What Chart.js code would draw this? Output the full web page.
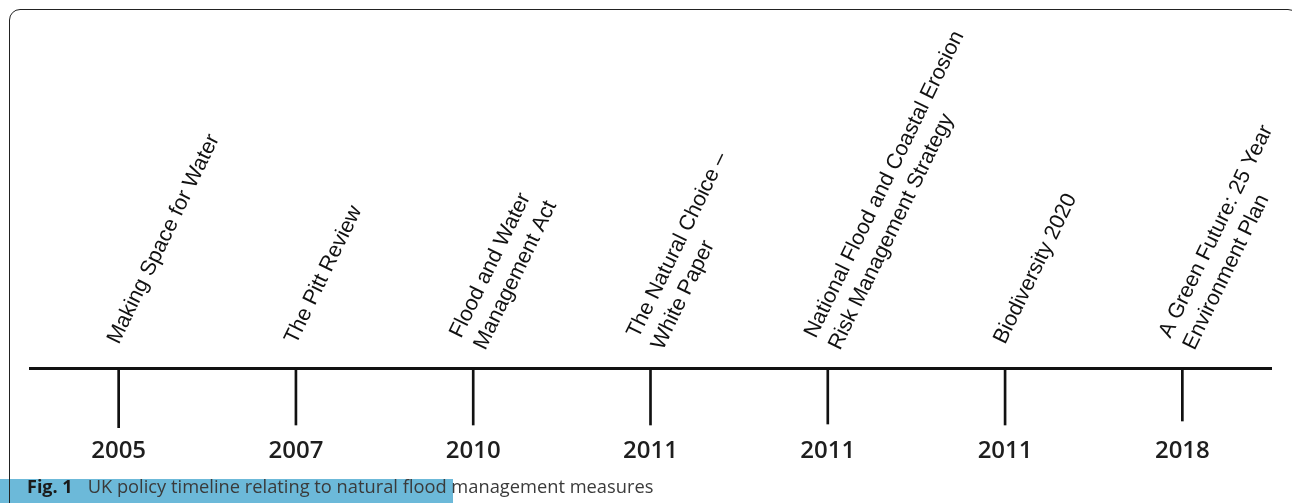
<!DOCTYPE html>
<html><head><meta charset="utf-8">
<script src="https://cdn.jsdelivr.net/npm/chart.js@4.4.1/dist/chart.umd.min.js"></script>
<style>
html,body{margin:0;padding:0;background:#fff;width:1292px;height:503px;overflow:hidden;}
#wrap{position:relative;width:1292px;height:503px;overflow:hidden;background:#fff;}
#bar{position:absolute;left:0;top:479px;width:453px;height:24px;background:#6cb9d9;}
#frame{position:absolute;left:9px;top:9px;width:1290px;height:600px;border:1.5px solid #222;border-radius:11px;box-sizing:border-box;}
canvas{position:absolute;left:0;top:0;}
#cap{position:absolute;left:27px;top:477px;font-family:'Open Sans';font-size:18px;line-height:18px;color:#3a3a3a;white-space:nowrap;}
#cap b{color:#1a1a1a;font-weight:700;margin-right:15px;}
#cap span{font-size:18.3px;}
</style></head>
<body><div id="wrap">
<div id="bar"></div>
<canvas id="c" width="1292" height="503"></canvas>
<div id="frame"></div>
<div id="cap"><b>Fig. 1</b><span>UK policy timeline relating to natural flood management measures</span></div>
</div>
<script>
// ---- data ----
const years = ['2005', '2007', '2010', '2011', '2011', '2011', '2018'];
const policies = [
  ['Making Space for Water'],
  ['The Pitt Review'],
  ['Flood and Water', 'Management Act'],
  ['The Natural Choice \u2013', 'White Paper'],
  ['National Flood and Coastal Erosion', 'Risk Management Strategy'],
  ['Biodiversity 2020'],
  ['A Green Future: 25 Year', 'Environment Plan']
];
const markerDepth = [60, 57, 57, 57, 56, 57, 53];

// ---- rotated policy labels drawn from the top axis ----
const policyLabelPlugin = {
  id: 'policyLabels',
  afterDraw(chart, args, o) {
    const sc = chart.scales.x2;
    const ctx = chart.ctx;
    const rot = -o.angle * Math.PI / 180;
    const labels = sc.getLabels();
    ctx.save();
    ctx.font = o.font;
    ctx.fillStyle = o.color;
    ctx.textAlign = 'left';
    ctx.textBaseline = 'alphabetic';
    labels.forEach((lines, i) => {
      const px = sc.getPixelForTick(i);
      const n = lines.length;
      ctx.save();
      ctx.translate(px + o.dx, sc.bottom + o.dy);
      ctx.rotate(rot);
      lines.forEach((ln, j) => {
        ctx.fillText(ln, 0, (j - (n - 1) / 2) * o.lineHeight);
      });
      ctx.restore();
    });
    ctx.restore();
  }
};

new Chart(document.getElementById('c'), {
  type: 'bar',
  data: {
    labels: years,
    datasets: [{
      data: markerDepth.map(d => [-d, 0]),
      backgroundColor: '#111',
      borderWidth: 0,
      barThickness: 2
    }]
  },
  options: {
    responsive: false,
    animation: false,
    events: [],
    layout: { padding: { top: 368, left: 30, right: 21, bottom: 0 } },
    plugins: {
      legend: { display: false },
      tooltip: { enabled: false },
      policyLabels: { angle: 64, lineHeight: 27, dx: 0, dy: -23, font: '21.5px "Liberation Sans"', color: '#111' }
    },
    scales: {
      y: { display: false, min: -60, max: 0 },
      x: {
        position: 'bottom',
        grid: { display: false, drawTicks: false },
        border: { display: false },
        ticks: { autoSkip: false, maxRotation: 0, padding: 9, color: '#1e1e1e',
                 font: { family: 'Open Sans', size: 24, weight: '600' } },
        afterFit(s) { s.height = 75; }
      },
      x2: {
        type: 'category',
        position: 'top',
        labels: policies,
        offset: true,
        grid: { display: false, drawTicks: false },
        border: { display: true, width: 3, color: '#111' },
        ticks: { display: false }
      }
    }
  },
  plugins: [policyLabelPlugin]
});
</script>
</body></html>
